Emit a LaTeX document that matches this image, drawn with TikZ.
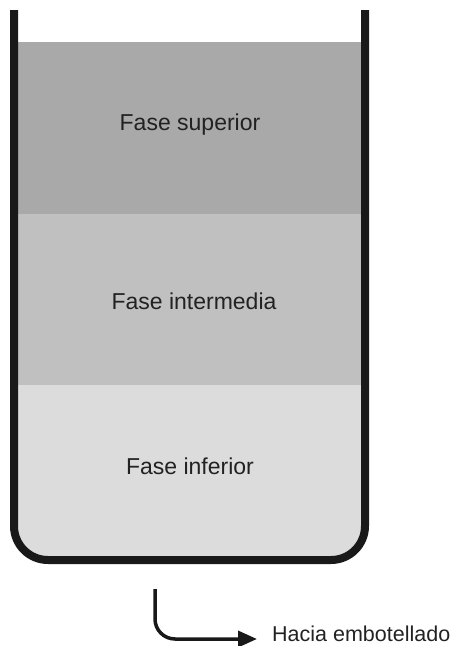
\documentclass[tikz,border=0pt]{standalone}
\usepackage{fontspec}
\setmainfont{Liberation Sans}
\usetikzlibrary{arrows.meta}
\definecolor{phaseA}{HTML}{A9A9A9}
\definecolor{phaseB}{HTML}{C0C0C0}
\definecolor{phaseC}{HTML}{DCDCDC}
\definecolor{txt}{HTML}{222222}
\tikzset{
  wall/.style={line width=8pt, draw=black!90, line join=round},
  label/.style={text=txt, font=\fontsize{23}{26}\selectfont, inner sep=0pt},
  flow/.style={line width=3.5pt, draw=black!90, -{Triangle[length=19pt,width=16pt]}, rounded corners=20pt}
}
\begin{document}
\begin{tikzpicture}[x=1pt,y=-1pt]
\useasboundingbox (0,0) rectangle (464,646);
% phases clipped to container interior
\begin{scope}
  \clip[rounded corners=34pt] (14,0) -- (14,560) -- (365,560) -- (365,0) -- cycle;
  \fill[phaseA] (0,42) rectangle (464,214);
  \fill[phaseB] (0,214) rectangle (464,385);
  \fill[phaseC] (0,385) rectangle (464,600);
\end{scope}
% container
\draw[wall, rounded corners=34pt] (14,10) -- (14,560) -- (365,560) -- (365,10);
% labels
\node[label] (sup) at (190,125) {Fase superior};
\node[label] (mid) at (194,301) {Fase intermedia};
\node[label] (inf) at (190,466) {Fase inferior};
\node[text=txt, font=\fontsize{21.5}{26}\selectfont, inner sep=0pt, anchor=base west] (out) at (272,641) {Hacia embotellado};
\coordinate (src) at (155,589);
\draw[flow] (src) -- (155,639) -- ([xshift=-15pt]out.base west |- 0,639);
\end{tikzpicture}
\end{document}
